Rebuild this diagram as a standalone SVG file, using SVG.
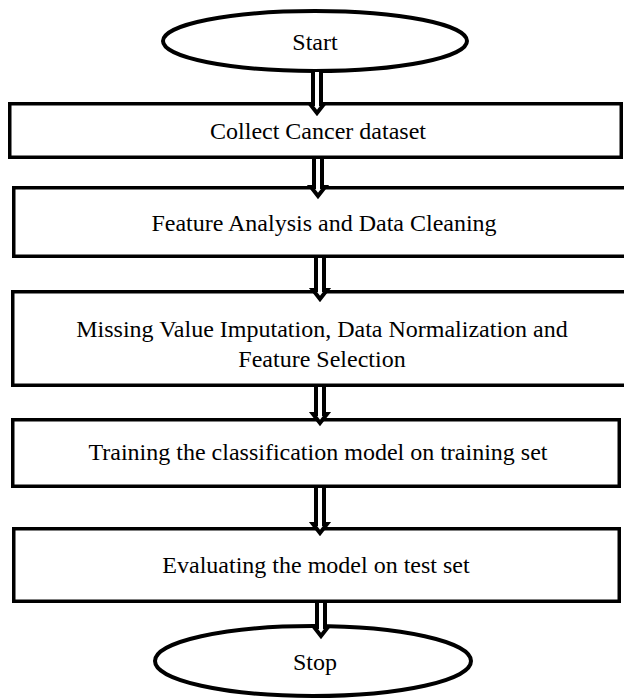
<svg xmlns="http://www.w3.org/2000/svg" width="624" height="698" viewBox="0 0 624 698">
<style>
.box{fill:#fff;stroke:#000;stroke-width:3.5}
.term{fill:#fff;stroke:#000;stroke-width:4}
.lbl{font-family:"Liberation Serif","Times New Roman",serif;font-size:24px;fill:#000;text-anchor:middle}
.arr{fill:#fff;stroke:#000;stroke-width:4;stroke-linejoin:miter}
</style>
<rect width="624" height="698" fill="#fff"/>
<g id="start">
<ellipse class="term" cx="315" cy="41" rx="152" ry="30"/>
<text class="lbl" x="315" y="50">Start</text>
</g>
<g id="collect">
<rect class="box" x="9.75" y="103.75" width="611.5" height="53.5"/>
<text class="lbl" x="318" y="139">Collect Cancer dataset</text>
</g>
<g id="feature">
<rect class="box" x="13.75" y="187.75" width="620" height="68.5"/>
<text class="lbl" x="324" y="231">Feature Analysis and Data Cleaning</text>
</g>
<g id="missing">
<rect class="box" x="12.75" y="291.75" width="620" height="93.5"/>
<text class="lbl" x="322" y="337">Missing Value Imputation, Data Normalization and</text>
<text class="lbl" x="322" y="367">Feature Selection</text>
</g>
<g id="training">
<rect class="box" x="12.75" y="419.75" width="606.5" height="66.5"/>
<text class="lbl" x="318" y="460">Training the classification model on training set</text>
</g>
<g id="evaluating">
<rect class="box" x="13.75" y="528.75" width="605.5" height="72.5"/>
<text class="lbl" x="316" y="573">Evaluating the model on test set</text>
</g>
<g id="stop">
<ellipse class="term" cx="313" cy="661" rx="158" ry="35"/>
<text class="lbl" x="315" y="670">Stop</text>
</g>
<g id="connectors">
<path class="arr" d="M313,72 V104 H310 L317,113 L324,104 H321 V72"/>
<path class="arr" d="M314,159 V187 H311 L318,196 L325,187 H322 V159"/>
<path class="arr" d="M316,258 V290 H313 L320,299 L327,290 H324 V258"/>
<path class="arr" d="M316,387 V414 H313 L320,423 L327,414 H324 V387"/>
<path class="arr" d="M316,488 V524 H313 L320,533 L327,524 H324 V488"/>
<path class="arr" d="M317,603 V627 H314 L321,636 L328,627 H325 V603"/>
</g>
</svg>
